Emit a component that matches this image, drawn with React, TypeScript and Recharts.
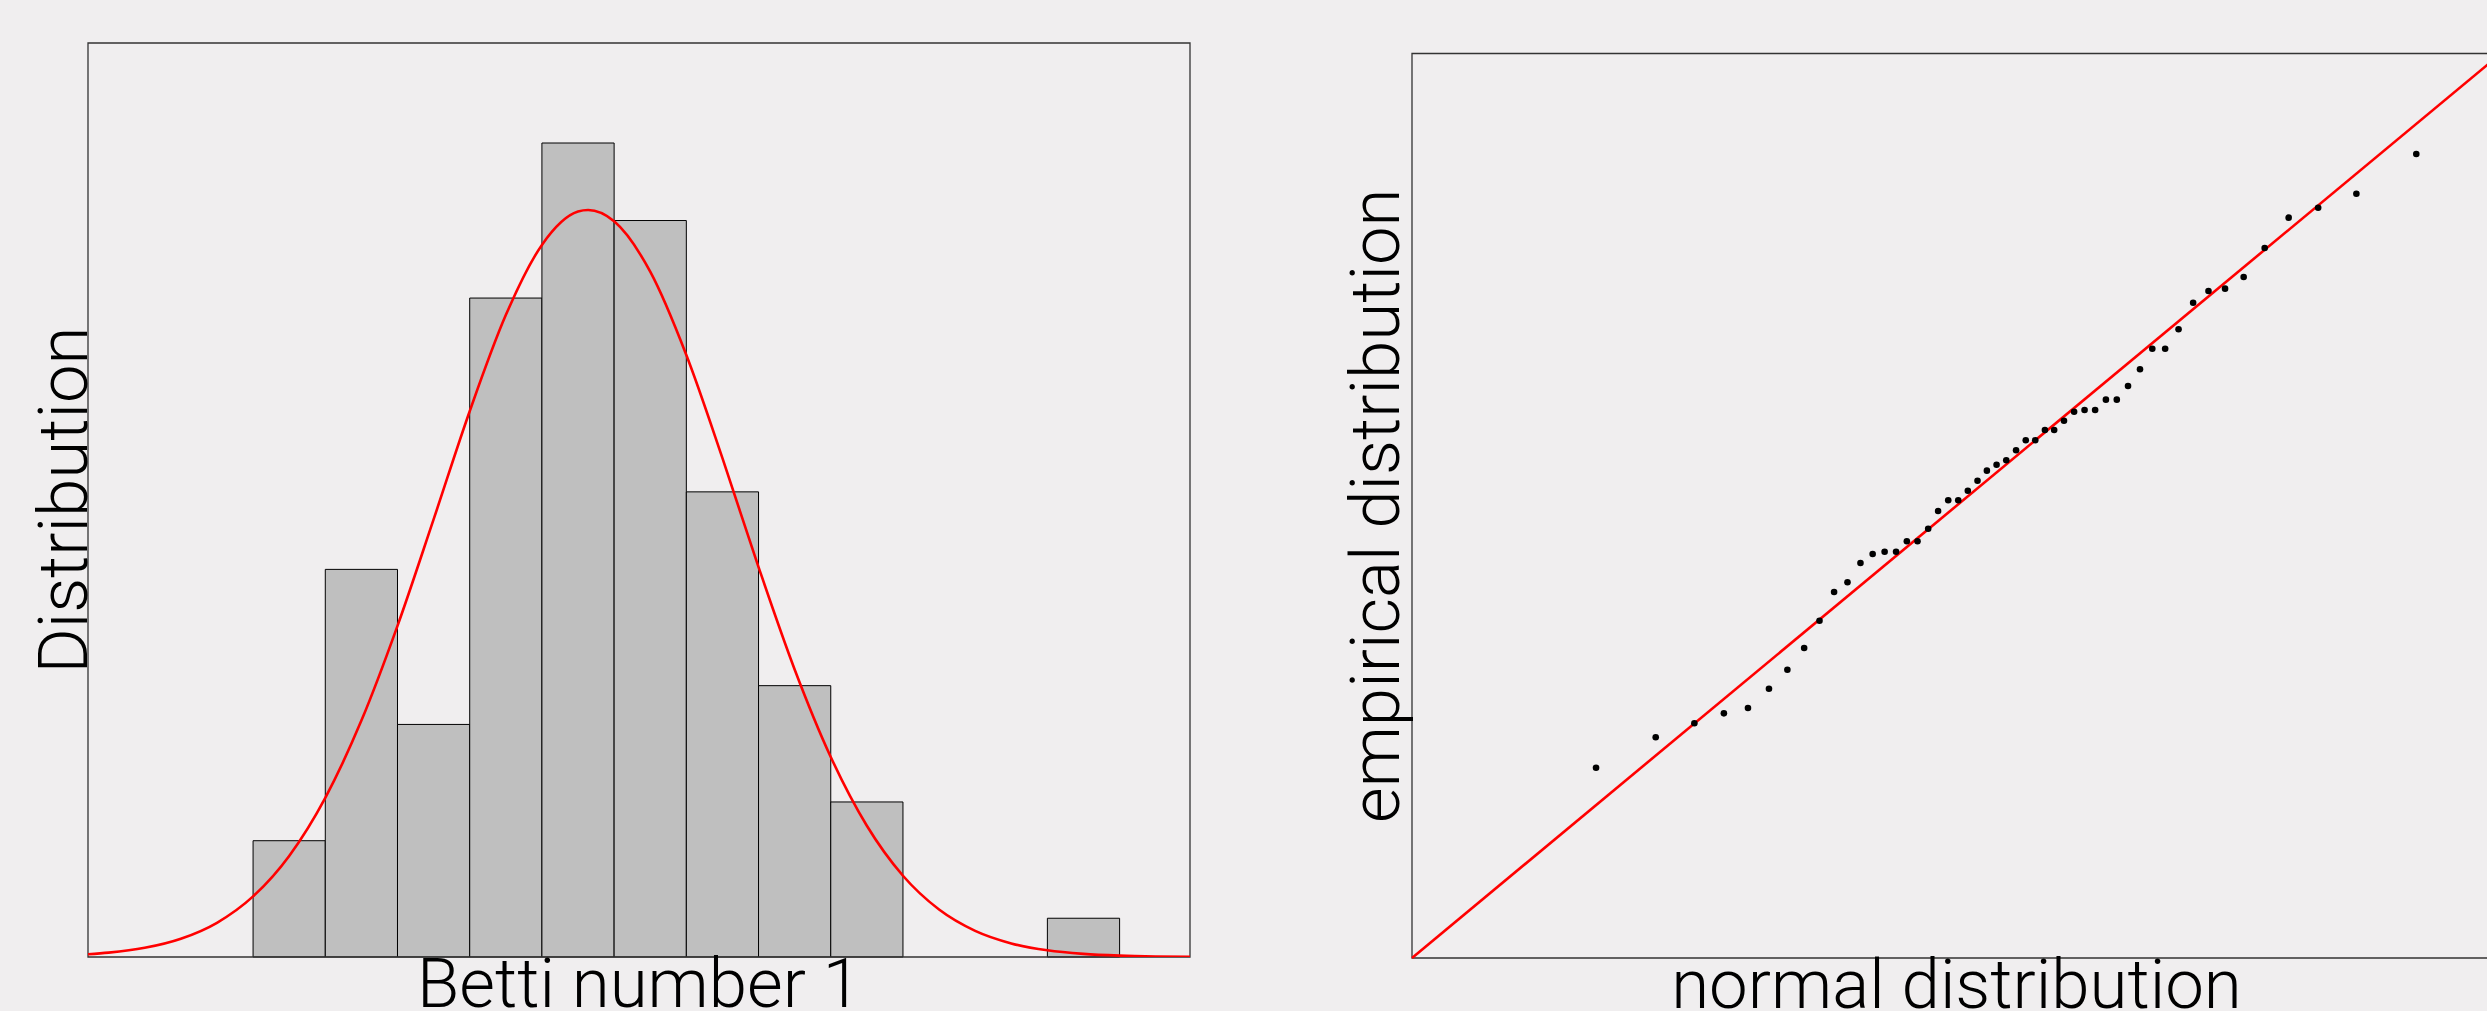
import React from 'react';
import {
  ComposedChart,
  Line,
  XAxis,
  YAxis,
  ReferenceArea,
  ReferenceLine,
  Scatter,
  Label,
} from 'recharts';

// ---------- Left panel: histogram of Betti number 1 ----------
const binStarts = [0, 1, 2, 3, 4, 5, 6, 7, 8, 9, 10, 11];
const binCounts = [3, 10, 6, 17, 21, 19, 12, 7, 4, 0, 0, 1];
const histXDomain = [-2.286, 12.975];
const histYDomain = [0, 23.58];

// fitted normal curve
const curveX = [
  -2.286, -2, -1.5, -1, -0.5, 0, 0.5, 1, 1.5, 2, 2.5, 3, 3.5, 4, 4.5, 4.64, 5, 5.5, 6,
  6.5, 7, 7.5, 8, 8.5, 9, 9.5, 10, 10.5, 11, 11.5, 12, 12.5, 12.975,
];
const curveY = [
  0.071, 0.112, 0.237, 0.471, 0.883, 1.563, 2.608, 4.107, 6.099, 8.544, 11.29, 14.08,
  16.56, 18.37, 19.23, 19.27, 18.98, 17.68, 15.53, 12.87, 10.06, 7.419, 5.161, 3.386,
  2.096, 1.225, 0.675, 0.351, 0.172, 0.08, 0.035, 0.014, 0.006,
];

// ---------- Right panel: Q-Q plot ----------
const qqDomain = [0, 100];
const qqNormal = [
  16.9, 22.38, 25.93, 28.64, 30.85, 32.78, 34.47, 36.01, 37.42, 38.76, 39.99, 41.18,
  42.3, 43.4, 44.45, 45.44, 46.42, 47.4, 48.31, 49.24, 50.16, 51.04, 51.93, 52.79,
  53.68, 54.57, 55.47, 56.36, 57.23, 58.12, 58.97, 59.87, 60.8, 61.76, 62.73, 63.72,
  64.72, 65.75, 66.85, 67.98, 69.16, 70.39, 71.73, 73.14, 74.66, 76.37, 78.3, 80.5,
  83.21, 86.72, 92.22,
];
const qqEmpirical = [
  21.04, 24.4, 25.95, 27.05, 27.64, 29.77, 31.87, 34.27, 37.29, 40.46, 41.54, 43.67,
  44.67, 44.92, 44.92, 46.07, 46.07, 47.46, 49.42, 50.61, 50.61, 51.66, 52.77, 53.88,
  54.54, 55.03, 56.13, 57.24, 57.24, 58.37, 58.37, 59.4, 60.4, 60.59, 60.59, 61.73,
  61.73, 63.24, 65.09, 67.35, 67.35, 69.51, 72.45, 73.74, 74.0, 75.29, 78.5, 81.85,
  82.95, 84.5, 88.89,
];

const BG = '#f0eeef';
const FONT = 'Roboto, "Open Sans", sans-serif';
const labelStyle = {
  fontFamily: FONT,
  fontWeight: 300,
  fontSize: 69,
  fill: '#000000',
};

const curveData = curveX.map((x, i) => ({ x, y: curveY[i] }));
const qqData = qqNormal.map((x, i) => ({ x, y: qqEmpirical[i] }));

const Dot = (props: any) => <circle cx={props.cx} cy={props.cy} r={3.3} fill="#000" />;

export default function App() {
  return (
    <div
      style={{
        position: 'absolute',
        left: 0,
        top: 0,
        width: 2487,
        height: 1011,
        overflow: 'hidden',
        background: BG,
      }}
    >
      <div style={{ position: 'absolute', left: 0, top: 0 }}>
        <ComposedChart
          width={1250}
          height={1011}
          data={curveData}
          margin={{ top: 43, right: 60, bottom: 0, left: 37 }}
        >
          <XAxis
            dataKey="x"
            type="number"
            domain={histXDomain}
            allowDataOverflow
            height={54}
            axisLine={false}
            tickLine={false}
            tick={false}
          >
            <Label value="Betti number 1" position="insideTop" offset={1} {...labelStyle} />
          </XAxis>
          <YAxis
            type="number"
            domain={histYDomain}
            allowDataOverflow
            width={51}
            axisLine={false}
            tickLine={false}
            tick={false}
          >
            <Label value="Distribution" position="center" angle={-90} {...labelStyle} />
          </YAxis>
          {binStarts.map((s, i) =>
            binCounts[i] > 0 ? (
              <ReferenceArea
                key={'bin' + i}
                x1={s}
                x2={s + 1}
                y1={0}
                y2={binCounts[i]}
                fill="#bfbfbf"
                fillOpacity={1}
                stroke="#000"
                strokeWidth={1}
              />
            ) : null
          )}
          <ReferenceArea
            x1={histXDomain[0]}
            x2={histXDomain[1]}
            y1={histYDomain[0]}
            y2={histYDomain[1]}
            fill="none"
            stroke="#333"
            strokeWidth={1.3}
          />
          <Line
            dataKey="y"
            type="monotone"
            stroke="#ff0000"
            strokeWidth={2.6}
            dot={false}
            activeDot={false}
            isAnimationActive={false}
          />
        </ComposedChart>
      </div>
      <div style={{ position: 'absolute', left: 1250, top: 0 }}>
        <ComposedChart
          width={1251}
          height={1011}
          data={qqData}
          margin={{ top: 53.5, right: 0, bottom: 0, left: 87 }}
        >
          <XAxis
            dataKey="x"
            type="number"
            domain={qqDomain}
            allowDataOverflow
            height={53}
            axisLine={false}
            tickLine={false}
            tick={false}
          >
            <Label value="normal distribution" position="insideTop" offset={1} {...labelStyle} />
          </XAxis>
          <YAxis
            dataKey="y"
            type="number"
            domain={qqDomain}
            allowDataOverflow
            width={75}
            axisLine={false}
            tickLine={false}
            tick={false}
          >
            <Label value="empirical distribution" position="center" angle={-90} {...labelStyle} />
          </YAxis>
          <ReferenceArea
            x1={qqDomain[0]}
            x2={qqDomain[1]}
            y1={qqDomain[0]}
            y2={qqDomain[1]}
            fill="none"
            stroke="#333"
            strokeWidth={1.3}
          />
          <ReferenceLine
            segment={[
              { x: qqDomain[0], y: qqDomain[0] },
              { x: qqDomain[1], y: qqDomain[1] },
            ]}
            stroke="#ff0000"
            strokeWidth={2.6}
          />
          <Scatter dataKey="y" shape={Dot} isAnimationActive={false} />
        </ComposedChart>
      </div>
    </div>
  );
}
